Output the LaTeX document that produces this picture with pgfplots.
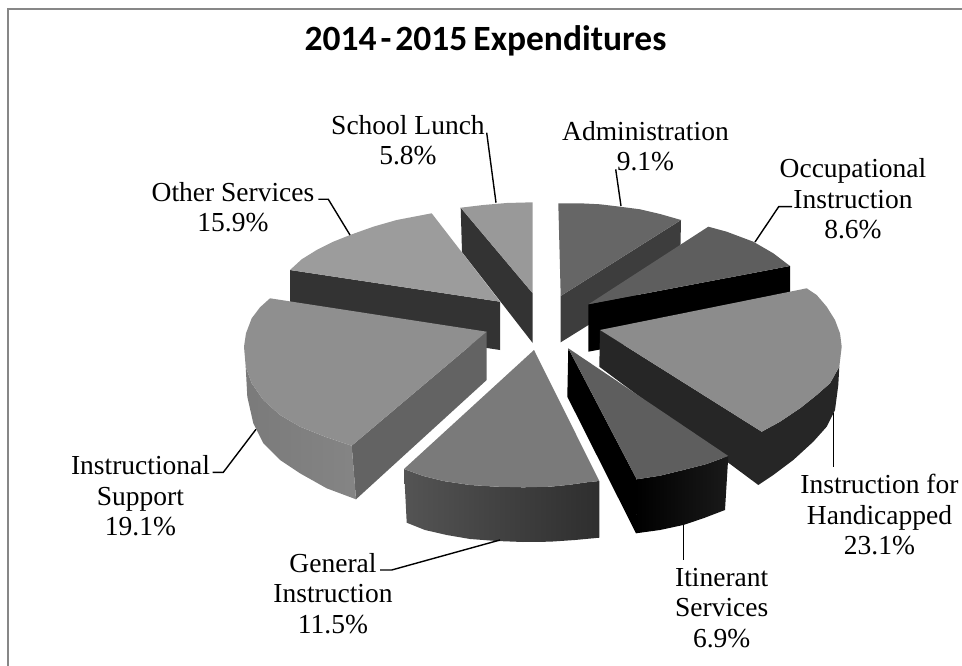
\documentclass[border=0pt]{standalone}
\usepackage{pgfplots}
\pgfplotsset{compat=1.18}
\usepackage{fontspec}
\setmainfont{Liberation Serif}
\newfontfamily\titlefont{Carlito}
\tikzset{lbl/.style={font=\fontsize{27.5}{30.5}\selectfont,align=center,anchor=center,inner sep=0pt,text=black},
  lead/.style={draw=black,line width=1.4pt,fill=none}}
\begin{document}
\begin{tikzpicture}[x=1pt,y=1pt]
\path[use as bounding box] (0,0) rectangle (962pt,666pt);
\begin{axis}[at={(0,0)},anchor=south west,width=962pt,height=666pt,scale only axis,
  xmin=0,xmax=962,ymin=0,ymax=666,y dir=reverse,hide axis,clip=false,no markers,
  every axis plot/.append style={line join=miter,sharp plot}]
% frame
\addplot[draw=black!47,line width=2.2pt] coordinates {(8,666) (8,9) (962,9)};
% Other Services
\addplot[fill=black!80,draw=none] coordinates {(290,270)(500,301.7)(500,350)(290,318)};
\addplot[fill=black!39,draw=none] coordinates {(290,270)(301.7,259.3)(316.7,250)(333.3,241.7)(350,235)(373.3,226.7)(396.7,220)(431.7,213.3)(500,301.7)};
% School Lunch
\addplot[fill=black!80,draw=none] coordinates {(460.7,207.7)(532.7,293.3)(532.7,343)(462,252)};
\addplot[fill=black!40,draw=none] coordinates {(460.7,207.7)(483.3,205)(506.7,203)(532.7,202.3)(532.7,293.3)};
% Administration
\addplot[fill=black!76,draw=none] coordinates {(560.7,296)(681,220)(680,268)(560.7,342.3)};
\addplot[fill=black!60,draw=none] coordinates {(558.3,203.3)(580,203.3)(600,204.3)(620,206.7)(640,209.3)(660,214)(681,220)(560.7,296)};
% Occupational Instruction
\addplot[fill=black,draw=none] coordinates {(588.3,304.3)(790,266)(790,314)(588.3,351.7)};
\addplot[fill=black!63,draw=none] coordinates {(592,302)(708.3,226.7)(726.7,231.7)(753.3,241.7)(773.3,253.3)(790,266)(588.3,304.3)};
% Instruction for Handicapped
\addplot[fill=black!85,draw=none] coordinates {(600,330)(761.7,431.7)(780,421.7)(800,408.3)(816.7,395)(830,383.3)(839.3,366.7)(838.3,385)(835,410)(826.7,426.7)(813.3,441.7)(793.3,460)(773.3,475)(758.3,485)(599.3,366.7)};
\addplot[fill=black!45,draw=none] coordinates {(600,330)(806.7,288.3)(816.7,295)(826.7,306.7)(835,320)(840,333.3)(841.7,346.7)(839.3,366.7)(830,383.3)(816.7,395)(800,408.3)(780,421.7)(761.7,431.7)};
% Itinerant Services
\addplot[fill=black,draw=none] coordinates {(568.3,348.3)(636.7,479.3)(636,533.3)(567.3,396.7)};
\addplot[left color=black,right color=black!90,draw=none] coordinates {(636.7,479.3)(660,475.7)(683.3,470)(706.7,464)(728.3,456)(725,510)(703.3,518.3)(683.3,525)(660,530)(636,533.3)};
\addplot[fill=black!63,draw=none] coordinates {(568.3,348.3)(728.3,456)(706.7,464)(683.3,470)(660,475.7)(636.7,479.3)};
% General Instruction
\addplot[left color=black!67,right color=black!82,draw=none] coordinates {(404,469)(423.3,476)(443.3,481)(470,485)(496.7,486.7)(523.3,487.3)(550,486.7)(570,484.7)(586.7,482.3)(599.3,481)(599.3,537.7)(575,540)(550,541.7)(523,542)(496.7,541)(470,539)(446.7,535)(425,530)(406.7,522.7)};
\addplot[fill=black!52,draw=none] coordinates {(534,350)(599.3,481)(586.7,482.3)(570,484.7)(550,486.7)(523.3,487.3)(496.7,486.7)(470,485)(443.3,481)(423.3,476)(404,469)};
% Instructional Support
\addplot[fill=black!61,draw=none] coordinates {(351.7,445.7)(486.7,331.7)(486.7,380)(356,499.3)};
\addplot[left color=black!52,right color=black!48,draw=none] coordinates {(245.7,366.7)(251.7,383.3)(263.3,400)(280,415)(300,426.7)(325,436.7)(351.7,445.7)(356,499.3)(326.7,488.3)(300,473.3)(280,460)(263.3,443.3)(253.3,423.3)(247.3,396.7)};
\addplot[fill=black!44,draw=none] coordinates {(270,298.3)(260,307.3)(251.7,318.3)(246,333.3)(244,346.7)(245.7,366.7)(251.7,383.3)(263.3,400)(280,415)(300,426.7)(325,436.7)(351.7,445.7)(486.7,331.7)};
% leader lines
\addplot[lead] coordinates {(486.7,132.7)(496,202.7)};
\addplot[lead] coordinates {(615.7,169.3)(621,206)};
\addplot[lead] coordinates {(792,206.7)(778.7,206.7)(755,242)};
\addplot[lead] coordinates {(318.3,199.3)(328.3,199.3)(350,235)};
\addplot[lead] coordinates {(212.7,472.3)(223.3,472.3)(256,429.3)};
\addplot[lead] coordinates {(380,570)(391.7,570)(500,540)};
\addplot[lead] coordinates {(833.7,413)(833.7,466.7)};
\addplot[lead] coordinates {(683.3,525)(683.3,560)};
% labels
\node[font=\titlefont\bfseries\fontsize{35.5}{40}\selectfont,anchor=center,inner sep=0pt] at (axis cs:485.5,41) {2014\hspace{4pt}-\hspace{4pt}2015\hspace{6pt}Expenditures};
\node[lbl] at (axis cs:408,140) {School Lunch\\5.8\%};
\node[lbl] at (axis cs:645.5,146) {Administration\\9.1\%};
\node[lbl] at (axis cs:853,199) {Occupational\\Instruction\\8.6\%};
\node[lbl] at (axis cs:233,207) {Other Services\\15.9\%};
\node[lbl] at (axis cs:879.5,515) {Instruction for\\Handicapped\\23.1\%};
\node[lbl] at (axis cs:721.7,608) {Itinerant\\Services\\6.9\%};
\node[lbl] at (axis cs:333,593.5) {General\\Instruction\\11.5\%};
\node[lbl] at (axis cs:140.5,496) {Instructional\\Support\\19.1\%};
\end{axis}
\end{tikzpicture}
\end{document}
